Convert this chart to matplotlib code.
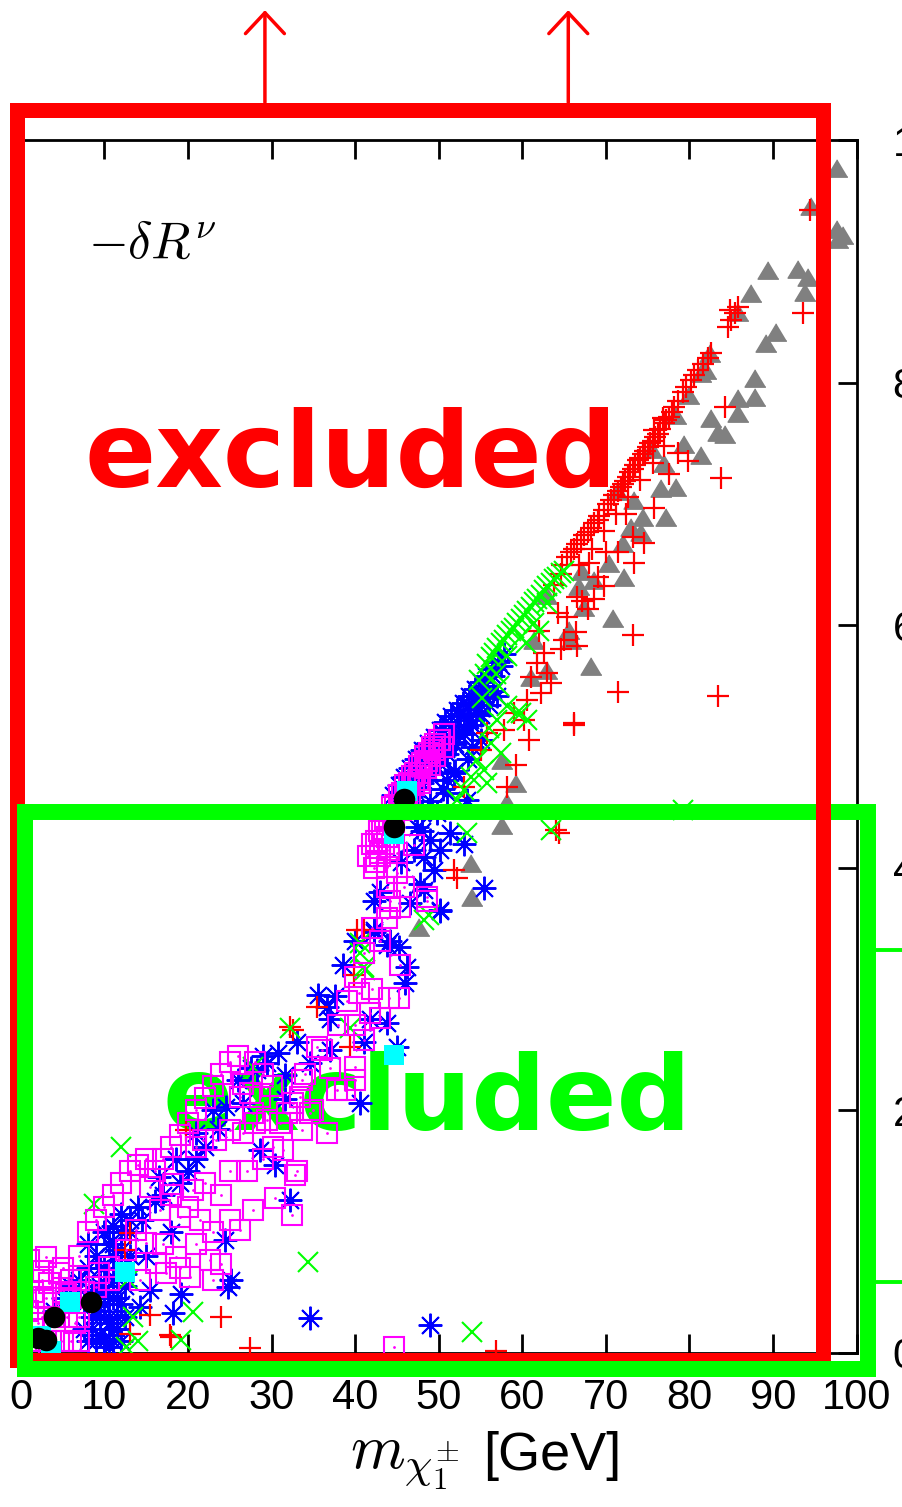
import matplotlib
matplotlib.use("Agg")
import matplotlib.pyplot as plt
from matplotlib.patches import Rectangle

plt.rcParams['font.family'] = ['Liberation Sans', 'DejaVu Sans']
plt.rcParams['mathtext.fontset'] = 'cm'

# ---- scatter data (x = chargino mass [GeV], y = -dR_nu) ----
gray_x = [97.7, 94.6, 97.7, 98.4, 97.8, 93.0, 94.2, 89.4, 93.8, 87.4, 85.8, 90.4, 89.2, 87.8,
          87.8, 85.8, 82.4, 81.4, 82.6, 83.4, 85.8, 78.4, 84.2, 79.4, 81.4, 77.0, 78.4, 76.6,
          77.2, 74.4, 73.0, 74.2, 72.1, 70.4, 72.2, 67.2, 68.6, 66.8, 67.4, 70.8, 65.6, 65.8,
          61.4, 68.2, 63.0, 61.0, 71.4, 73.4, 63.0, 75.5, 80.0, 82.0, 57.6, 58.2, 59.3, 57.6,
          53.8, 54.0, 47.6]
gray_y = [9.77, 9.46, 9.27, 9.22, 9.18, 8.94, 8.87, 8.93, 8.75, 8.74, 8.58, 8.42, 8.33, 8.04,
          7.88, 7.87, 8.24, 8.08, 7.71, 7.59, 7.75, 7.73, 7.58, 7.49, 7.40, 7.34, 7.14, 7.13,
          6.89, 6.89, 6.81, 6.77, 6.68, 6.51, 6.40, 6.45, 6.37, 6.32, 6.15, 6.06, 5.96, 5.88,
          5.88, 5.66, 5.63, 5.57, 7.11, 7.03, 6.25, 7.45, 7.90, 8.10, 4.35, 4.54, 4.70, 4.89,
          4.04, 3.76, 3.51]

red_x = [65.4, 66.2, 67.0, 67.8, 68.6, 69.2, 69.8, 70.6, 71.4, 72.0, 72.6, 73.2, 73.8, 74.4,
         75.0, 75.6, 76.2, 76.9, 77.5, 78.2, 79.2, 80.2, 81.0, 82.2, 84.6, 85.0, 85.4, 94.4,
         93.6, 84.2, 76.8, 75.8, 66.8, 68.3, 69.8, 71.2, 72.7, 74.1, 75.6, 77.0, 64.6, 63.8,
         64.8, 65.8, 66.6, 67.4, 68.2, 69.0, 70.2, 71.0, 71.8, 72.3, 72.9, 73.5, 74.1, 74.7,
         75.3, 75.9, 76.5, 77.2, 77.9, 78.6, 79.6, 80.6, 81.6, 82.6, 85.8, 84.9,
         83.8, 78.6, 79.8, 77.6, 72.4, 75.8, 73.2, 74.6, 71.4, 73.4, 68.0, 69.8, 68.6, 67.8,
         66.6, 65.4, 64.3, 73.2, 66.4, 65.0, 66.6, 64.6, 62.6, 61.8, 63.0, 61.0, 63.4, 62.2,
         60.6, 71.4, 83.4, 66.2, 60.2, 59.0, 66.2, 60.8, 59.2, 58.2, 55.8, 57.8, 64.4, 52.2,
         41.0, 55.0, 53.0, 64.0, 40.2, 39.8, 35.4, 32.2, 39.4, 19.8, 13.1, 17.8, 56.8, 24.0,
         18.0, 15.4, 27.4, 13.0, 32.6, 12.5, 51.8, 70.0, 69.0, 67.2, 62.0]
red_y = [6.56, 6.63, 6.70, 6.77, 6.84, 6.90, 6.95, 7.03, 7.11, 7.16, 7.22, 7.29, 7.36, 7.41,
         7.47, 7.52, 7.58, 7.67, 7.72, 7.80, 7.92, 8.02, 8.10, 8.20, 8.46, 8.52, 8.57, 9.42,
         8.57, 7.80, 7.71, 7.61, 6.50, 6.63, 6.78, 6.92, 7.06, 7.20, 7.34, 7.48, 6.42, 6.33,
         6.50, 6.60, 6.67, 6.74, 6.80, 6.87, 7.00, 7.07, 7.14, 7.19, 7.26, 7.32, 7.38, 7.44,
         7.50, 7.55, 7.62, 7.69, 7.76, 7.85, 7.96, 8.06, 8.15, 8.24, 8.62, 8.60,
         7.21, 7.42, 7.35, 7.25, 6.92, 6.97, 6.73, 6.68, 6.60, 6.51, 6.51, 6.32, 6.22, 6.13,
         6.23, 6.07, 6.10, 5.92, 5.94, 5.88, 5.83, 5.80, 5.77, 5.69, 5.61, 5.57, 5.52, 5.44,
         5.38, 5.45, 5.42, 5.19, 5.22, 5.28, 5.18, 5.05, 4.85, 4.67, 5.11, 5.14, 4.29, 3.92,
         3.49, 4.97, 4.67, 4.31, 3.49, 3.12, 2.85, 2.69, 2.52, 1.84, 0.99, 0.15, 0.02, 0.30,
         0.13, 0.31, 0.04, 0.16, 2.66, 0.85, 3.98, 6.60, 6.40, 6.20, 5.95]

green_x = [56.2, 57.0, 57.8, 58.6, 59.4, 60.2, 61.0, 61.8, 62.6, 63.4, 64.2, 65.0, 55.5, 56.8,
           58.2, 59.8, 61.4, 63.0, 55.8, 56.6, 57.4, 58.2, 59.0, 59.8, 60.6, 61.4, 62.2, 63.0,
           63.8, 64.6, 54.8, 55.2, 57.2, 60.4, 62.0,
           58.2, 59.8, 57.0, 59.4, 60.6, 56.2, 54.6, 55.4, 53.8, 53.0,
           55.8, 52.2, 53.4, 63.4, 48.2, 40.6, 79.2, 48.8, 41.2, 12.0, 8.8, 34.4, 54.0, 20.6,
           19.2, 12.6, 40.6, 41.0, 39.4, 32.2, 27.8, 13.4, 14.0, 12.8, 56.0, 57.4]
green_y = [5.74, 5.81, 5.88, 5.95, 6.02, 6.08, 6.15, 6.22, 6.29, 6.35, 6.40, 6.45, 5.60, 5.60,
           5.75, 5.90, 6.02, 6.18, 5.68, 5.77, 5.85, 5.92, 5.98, 6.05, 6.12, 6.19, 6.25, 6.32,
           6.38, 6.43, 5.55, 5.40, 5.50, 5.85, 5.95,
           5.33, 5.28, 5.22, 5.28, 5.22, 5.03, 4.89, 4.81, 4.75, 4.64,
           4.70, 4.56, 4.29, 4.31, 3.57, 3.38, 4.48, 3.61, 3.16, 1.70, 1.23, 0.75, 0.17, 0.34,
           0.11, 0.05, 3.30, 3.18, 2.68, 2.68, 2.36, 0.30, 0.10, 0.60, 5.15, 4.95]

blue_x = [47.5, 48.5, 49.5, 50.5, 51.5, 52.5, 53.5, 54.5, 55.5, 56.5, 57.5, 48.0, 49.0, 50.0,
          51.0, 52.0, 53.0, 54.0, 55.0, 56.0, 57.0, 49.0, 50.5, 52.0, 53.5, 55.0, 46.5, 47.2,
          44.5, 45.2, 45.9, 46.6, 47.3, 48.0, 48.7, 49.4, 50.1, 50.8, 51.5, 52.2, 52.9, 53.6,
          54.3, 55.0, 55.7, 56.4, 57.1, 57.8, 46.0, 46.7, 47.4, 48.1, 48.8, 49.5, 50.2, 50.9,
          51.6, 52.3, 53.0, 53.7, 54.4, 55.1, 55.8, 56.5, 48.0, 51.0, 54.0,
          47.4, 49.0, 51.4, 53.0, 50.2, 48.2, 49.4, 47.8, 55.4, 50.2, 48.2, 46.6, 42.2, 42.2,
          44.2, 51.8, 51.0, 53.4, 49.8, 49.0, 34.6, 24.8, 19.2, 18.2, 14.2, 15.4, 50.2, 42.2,
          43.8, 45.2, 46.2, 46.0, 36.6, 37.6, 37.0, 43.8, 41.8, 41.0, 45.0, 37.0, 33.0, 30.8,
          29.4, 28.2, 34.6, 31.6, 40.6, 23.0, 24.6, 26.6, 21.0, 31.6, 28.6, 32.2, 30.4, 23.6,
          24.4, 25.2, 13.0, 14.5, 16.0, 17.0, 15.0, 18.0, 19.0, 20.0, 11.0, 21.0, 22.0, 8.0,
          9.0, 10.0, 11.0, 12.0, 8.5, 9.5, 10.5, 11.5, 12.0, 9.0, 10.0, 11.0, 10.0, 9.0,
          11.0, 7.0, 8.0, 12.0, 13.0, 12.0, 7.5, 8.5, 9.5, 10.5, 11.5, 12.5, 7.5, 10.5,
          9.0, 11.0, 12.5, 8.0, 13.0, 12.0, 11.0, 10.0, 6.0, 5.0, 4.0, 14.0, 16.5, 18.5,
          26.0, 27.5, 29.0, 35.5, 38.5, 40.0, 43.0, 45.5, 47.0, 48.0,
          9.5, 10.5, 11.5, 12.5, 10.0, 8.5, 11.0, 12.0, 9.5]
blue_y = [4.85, 4.95, 5.02, 5.10, 5.18, 5.26, 5.34, 5.42, 5.50, 5.58, 5.66, 4.70, 4.78, 4.86,
          4.94, 5.02, 5.10, 5.18, 5.26, 5.34, 5.42, 4.55, 4.65, 4.80, 4.90, 5.05, 4.60, 4.50,
          4.60, 4.68, 4.75, 4.82, 4.90, 4.97, 5.03, 5.08, 5.14, 5.20, 5.25, 5.30, 5.36, 5.42,
          5.47, 5.53, 5.58, 5.64, 5.70, 5.76, 4.50, 4.58, 4.65, 4.72, 4.78, 4.85, 4.91, 4.98,
          5.04, 5.10, 5.16, 5.22, 5.28, 5.34, 5.40, 5.46, 4.45, 4.72, 5.00,
          4.34, 4.23, 4.29, 4.20, 4.15, 4.09, 3.98, 3.87, 3.83, 3.65, 3.82, 3.71, 3.73, 3.49,
          3.40, 4.78, 4.62, 4.56, 4.45, 0.23, 0.29, 0.54, 0.49, 0.33, 0.38, 0.52, 3.64, 3.47,
          3.36, 3.35, 3.18, 3.05, 2.85, 2.94, 2.75, 2.72, 2.75, 2.56, 2.52, 2.50, 2.56, 2.47,
          2.39, 2.33, 2.39, 2.09, 2.06, 2.00, 2.03, 2.06, 1.81, 2.29, 1.67, 1.26, 1.55, 1.85,
          0.93, 0.60, 1.00, 1.10, 1.25, 1.30, 0.80, 1.00, 1.40, 1.50, 0.80, 1.60, 1.70, 0.10,
          0.10, 0.10, 0.10, 0.10, 0.30, 0.30, 0.30, 0.30, 0.40, 0.50, 0.50, 0.60, 0.70, 0.80,
          0.90, 0.60, 0.90, 1.00, 1.10, 0.70, 0.20, 0.50, 0.70, 0.90, 0.20, 0.30, 0.40, 0.05,
          0.35, 0.45, 0.55, 0.70, 0.80, 1.15, 1.05, 1.00, 0.55, 0.45, 0.35, 1.20, 1.45, 1.60,
          2.25, 2.35, 2.45, 2.95, 3.20, 3.40, 3.80, 4.05, 4.15, 4.30,
          0.15, 0.25, 0.45, 0.65, 0.40, 0.20, 0.20, 0.85, 0.55]

mag_x = [42.0, 42.8, 43.6, 44.4, 45.2, 46.0, 46.8, 47.6, 48.4, 49.2, 50.0, 50.6, 47.8, 49.0,
         46.0, 43.0, 44.0, 47.0, 45.0, 43.8, 45.8, 44.2, 45.4, 43.8, 48.6, 45.0, 43.8, 44.2,
         41.5, 42.5, 43.2, 44.0, 44.8, 45.6, 46.4, 47.2, 48.0, 48.8, 49.6, 42.5, 43.5, 44.5,
         45.5, 46.5, 47.5, 48.5, 49.5, 50.5,
         42.2, 43.0, 43.8, 44.6, 45.4, 46.2, 47.0, 47.8, 48.6, 49.4, 50.2,
         48.6, 45.4, 40.4, 44.0, 45.2, 41.8, 43.0, 41.0, 35.4, 40.0, 40.0, 38.8, 37.8, 33.6,
         33.4, 32.6, 34.6, 31.8, 29.4, 36.6, 33.6, 27.4, 26.2, 26.6, 28.6, 27.8, 26.6, 25.0,
         23.4, 21.8, 21.0, 31.4, 30.2, 32.4, 32.8, 30.4, 24.0, 23.0, 26.2, 27.8, 44.6, 15.4,
         18.2, 20.6, 16.6, 19.0, 21.4, 13.8, 15.0, 12.6, 18.6, 22.6, 20.2, 10.6, 9.4, 3.0,
         2.6, 4.6, 7.0, 9.0, 10.6, 3.4, 2.6, 5.4, 16.2, 14.2, 17.4, 2.0, 3.0, 4.0, 5.0, 6.0,
         7.0, 2.5, 4.0, 5.5, 7.0, 3.0, 6.0, 1.5, 1.0, 0.8,
         1.0, 2.0, 4.0, 5.0, 6.0, 6.5, 7.5, 1.5, 2.5, 5.0, 7.0, 8.0, 9.0, 10.0, 11.0, 12.0,
         13.0, 14.0, 15.0, 16.0, 17.0, 18.0, 19.0, 20.0, 21.0, 22.0, 23.0, 24.0, 25.0, 26.0,
         28.0, 29.0, 30.0, 25.0, 24.0, 22.0, 20.0, 18.0, 17.0, 19.0, 21.0, 23.0, 25.0, 27.0,
         28.0, 29.0, 31.0, 33.0, 34.0, 36.0, 38.0, 39.0, 40.0, 41.0, 42.0, 43.0, 42.0, 40.0,
         37.0, 35.0]
mag_y = [4.20, 4.30, 4.40, 4.50, 4.60, 4.68, 4.76, 4.84, 4.92, 5.00, 5.05, 5.10, 4.70, 4.85,
         4.50, 4.10, 4.15, 4.19, 3.96, 3.84, 3.84, 3.73, 3.68, 3.59, 3.76, 4.12, 4.01, 3.67,
         4.10, 4.22, 4.32, 4.42, 4.52, 4.62, 4.70, 4.78, 4.86, 4.95, 5.02, 4.05, 4.20, 4.35,
         4.48, 4.60, 4.72, 4.82, 4.92, 5.00,
         4.00, 4.12, 4.25, 4.38, 4.50, 4.58, 4.68, 4.78, 4.88, 4.97, 5.05,
         3.73, 3.20, 2.97, 2.93, 2.93, 2.80, 2.76, 2.58, 2.52, 2.36, 2.25, 2.17, 2.17, 2.25,
         2.11, 2.06, 1.98, 1.98, 1.92, 1.81, 1.84, 2.14, 2.11, 2.22, 2.11, 1.98, 1.81, 1.84,
         1.76, 1.76, 1.70, 1.67, 1.70, 1.14, 1.47, 1.28, 0.73, 0.60, 1.01, 1.18, 0.05, 1.37,
         1.39, 1.34, 1.18, 1.12, 1.10, 1.01, 0.91, 0.85, 0.79, 0.77, 0.63, 0.71, 0.66, 0.79,
         0.68, 0.66, 0.60, 0.54, 0.60, 0.58, 0.46, 0.49, 0.74, 0.60, 0.66, 0.10, 0.10, 0.10,
         0.10, 0.10, 0.10, 0.30, 0.30, 0.30, 0.30, 0.45, 0.45, 0.20, 0.77, 0.35,
         0.05, 0.25, 0.45, 0.50, 0.60, 0.25, 0.50, 0.50, 0.60, 0.70, 0.80, 1.00, 1.10, 1.20,
         1.30, 1.40, 1.50, 1.55, 1.60, 1.50, 1.60, 1.70, 1.80, 1.90, 2.00, 2.10, 2.20, 2.30,
         2.40, 2.45, 2.40, 2.30, 2.20, 1.50, 1.30, 1.40, 1.20, 1.30, 0.90, 0.70, 0.90, 1.00,
         1.10, 1.50, 1.90, 1.60, 1.90, 1.50, 2.30, 2.50, 2.70, 2.90, 3.10, 3.30, 3.50, 3.40,
         3.00, 2.70, 2.35, 2.00]

cyan_x = [46.2, 44.7, 44.7, 12.4, 5.9, 2.4, 3.6]
cyan_y = [4.63, 4.28, 2.46, 0.67, 0.42, 0.14, 0.02]

black_x = [45.8, 44.7, 8.4, 4.0, 3.0, 2.0]
black_y = [4.57, 4.34, 0.42, 0.30, 0.11, 0.12]

# annotation boxes (data coordinates)
red_box = (-0.47, -0.058, 95.98, 10.25)     # x0, y0, x1, y1
green_box = (0.49, -0.128, 101.4, 4.456)
arrow_x = [29.2, 65.5]
green_stub_y = [3.32, 0.585]

fig = plt.figure(figsize=(9.02, 15.07), dpi=100)
ax = fig.add_axes([20.9 / 902, 154 / 1507, 835.7 / 902, 1213 / 1507])
ax.set_xlim(0, 100)
ax.set_ylim(0, 10)

tri = [(0, 1), (-1.2, -1), (1.2, -1)]
ax.plot(gray_x, gray_y, ls='none', marker=tri, ms=15, color='#808080', zorder=2)
ax.plot(blue_x, blue_y, ls='none', marker=(8, 2, 0), ms=17, mew=1.4, color='#0000ff', zorder=3)
ax.plot(red_x, red_y, ls='none', marker='+', ms=16, mew=1.6, color='#ff0000', zorder=4)
ax.plot(green_x, green_y, ls='none', marker='x', ms=14.5, mew=1.5, color='#00ff00', zorder=5)
ax.plot(mag_x, mag_y, ls='none', marker='s', ms=14.5, mew=1.5, mfc='none', mec='#ff00ff', zorder=6)
ax.plot(mag_x, mag_y, ls='none', marker='.', ms=2, color='#ff00ff', zorder=6)
ax.plot(cyan_x, cyan_y, ls='none', marker='s', ms=15, mew=0, color='#00ffff', zorder=7)
ax.plot(black_x, black_y, ls='none', marker='o', ms=15.5, mew=0, color='black', zorder=8)

# big labels
ax.text(7.6, 7.14, 'excluded', color='#ff0000', fontsize=75.5, fontweight='bold',
        family='DejaVu Sans', va='baseline', zorder=1)
ax.text(16.9, 1.84, 'excluded', color='#00ff00', fontsize=75, fontweight='bold',
        family='DejaVu Sans', va='baseline', zorder=1)
ax.text(8.0, 9.03, r'$-\delta R^{\nu}$', fontsize=37, va='baseline')

# boxes: green under red, then green left/bottom edges over red
gx0, gy0, gx1, gy1 = green_box
rx0, ry0, rx1, ry1 = red_box
ax.add_patch(Rectangle((gx0, gy0), gx1 - gx0, gy1 - gy0, fill=False, ec='#00ff00',
                       lw=11.5, clip_on=False, zorder=10))
ax.add_patch(Rectangle((rx0, ry0), rx1 - rx0, ry1 - ry0, fill=False, ec='#ff0000',
                       lw=10.8, clip_on=False, zorder=11))
ax.plot([gx0, gx0, gx1], [gy1, gy0, gy0], color='#00ff00', lw=11.5, solid_joinstyle='miter',
        solid_capstyle='projecting', clip_on=False, zorder=12)
for yy in green_stub_y:
    ax.plot([gx1 + 0.9, 108], [yy, yy], color='#00ff00', lw=2.8, clip_on=False, zorder=12)

for xa in arrow_x:
    ax.annotate('', xy=(xa, 11.07), xytext=(xa, 10.31), annotation_clip=False,
                arrowprops=dict(arrowstyle='->, head_length=0.75, head_width=0.7',
                                color='#ff0000', lw=2.5, mutation_scale=20,
                                shrinkA=0, shrinkB=0))

ax.set_xticks(range(0, 101, 10))
ax.set_yticks(range(0, 11, 2))
ax.tick_params(axis='both', direction='in', length=13.7, width=2, top=True, right=True,
               left=False, labelleft=False, labelright=True, labelsize=30)
ax.tick_params(axis='x', pad=18)
ax.tick_params(axis='y', pad=26)
for sp in ax.spines.values():
    sp.set_linewidth(2)

# axis title: math part larger than the unit, as in the original
fig.text(350 / 902, 1 - 1468 / 1507, r'$m_{\chi_1^{\pm}}$', fontsize=45, va='baseline')
fig.text(483 / 902, 1 - 1470 / 1507, '[GeV]', fontsize=39, va='baseline')

fig.savefig('out.png', dpi=100)
